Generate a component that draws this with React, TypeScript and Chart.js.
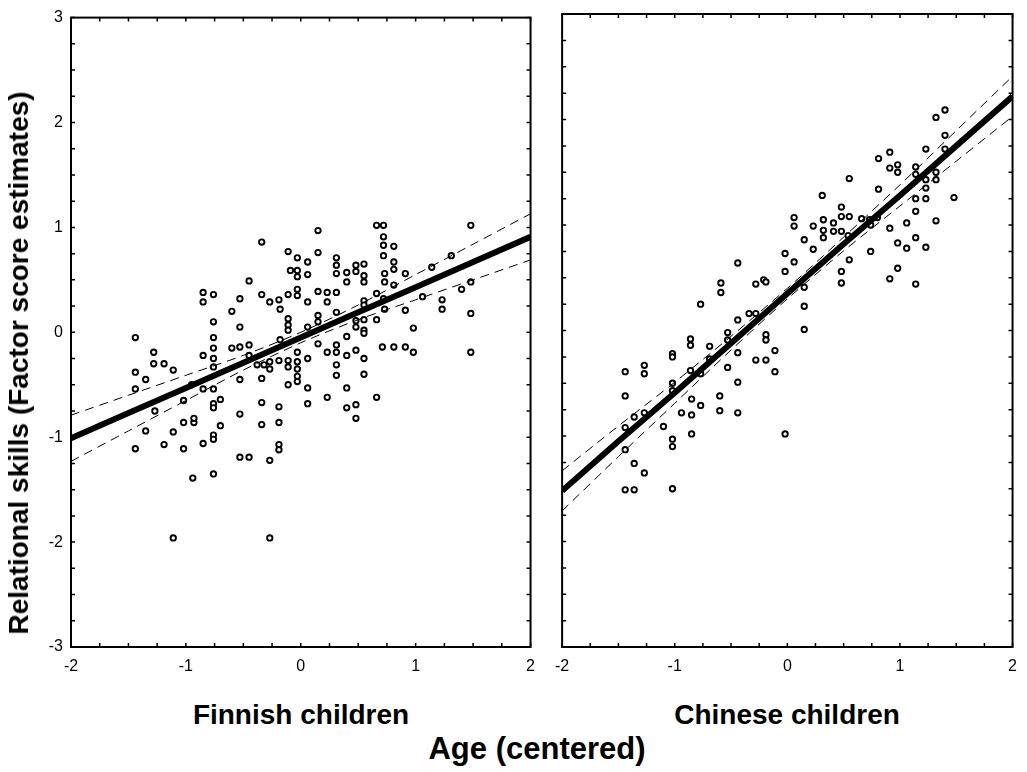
import React, { useEffect, useRef } from "react";
import { Chart, registerables } from "chart.js";
Chart.register(...registerables);

const FONT = "'Liberation Sans', Arial, Helvetica, sans-serif";

// Regression lines and 95% confidence bands, read at these ages
const bandX = [-2, -1.5, -1, -0.5, 0, 0.5, 1, 1.5, 2];
const finnishFit = [-1.01, -0.77, -0.53, -0.29, -0.05, 0.19, 0.43, 0.67, 0.91];
const finnishUpper = [-0.79, -0.6, -0.41, -0.22, 0.0, 0.26, 0.55, 0.84, 1.13];
const finnishLower = [-1.23, -0.94, -0.65, -0.36, -0.1, 0.12, 0.31, 0.5, 0.69];
const chineseFit = [-1.52, -1.05, -0.59, -0.12, 0.35, 0.82, 1.28, 1.75, 2.22];
const chineseUpper = [-1.33, -0.905, -0.49, -0.055, 0.4, 0.885, 1.38, 1.895, 2.41];
const chineseLower = [-1.71, -1.195, -0.69, -0.185, 0.3, 0.755, 1.18, 1.605, 2.03];

// Finnish children: age (centered), relational skills
const finnishAge = [
  -0.34, -0.11, -0.03, -0.09, -0.03, -0.03, 0.06, -0.45, -0.85, -0.76, -0.85, -0.53, -0.34, -0.27, -0.19, -0.18,
  -0.11, -0.03, -0.03, -0.6, -0.76, -0.53, -0.11, -0.11, -0.11, -1.44, -0.76, -0.76, -0.76, -0.76, -0.85, -0.6,
  -0.53, -0.45, -0.45, -0.18, -1.28, -1.28, -1.19, -1.11, -1.44, -1.35, -0.53, -0.38, -0.32, -0.27, -0.27, -0.19,
  -0.11, -0.11, -0.03, -0.03, -0.03, 0.06, -0.34, -0.03,
  -1.44, -0.95, -0.85, -0.76, -0.7, -0.76, -0.76, -1.02, -1.27, -0.11, -0.34, -0.19, -0.53, -1.02, -0.93, -0.93,
  -0.7, -0.34, -0.19, -1.35, -1.11, -0.76, -0.76, -0.85, -1.19, -1.02, -1.44, -0.19, -0.19, -0.53, -0.45, -0.27,
  -0.94, -0.76, -1.11, -0.27,
  1.48, 0.66, 0.72, 0.15, 0.72, 0.72, 0.81, 0.15, 0.72, 0.06, 0.31, 0.31, 0.31, 0.4, 0.48, 0.55, 0.48, 0.4, 0.55,
  0.55, 0.81, 0.81, 0.73, 0.73, 0.81, 0.91, 1.14, 1.31, 1.48, 1.4, 1.06, 1.23, 1.23, 0.91, 0.06, 0.15, 0.23, 0.31,
  0.23, 0.66, 0.72, 0.55, 0.55, 0.73, 1.48, 0.15, 0.15, 0.31, 0.48, 0.55, 0.66, 0.48, 0.55, 0.55, 0.98, 0.06, 0.4,
  0.15, 0.23, 0.31, 0.31, 0.4, 0.48, 0.55, 0.71, 0.81, 0.91, 0.98, 1.48, 0.31, 0.31, 0.55,
  -0.03, 0.06, 0.4, 0.06, 0.23, 0.66, 0.4, 0.48, 0.48,
];
const finnishSkill = [
  0.86, 0.77, 0.71, 0.59, 0.59, 0.53, 0.55, 0.49, 0.38, 0.36, 0.29, 0.32, 0.36, 0.29, 0.31, 0.22,
  0.36, 0.41, 0.35, 0.2, 0.1, 0.05, 0.13, 0.07, 0.02, -0.05, -0.05, -0.15, -0.25, -0.33, -0.22, -0.15,
  -0.14, -0.12, -0.22, -0.07, -0.19, -0.3, -0.3, -0.36, -0.38, -0.45, -0.45, -0.31, -0.31, -0.28, -0.35, -0.27,
  -0.27, -0.33, -0.19, -0.28, -0.35, -0.25, -0.44, -0.42,
  -0.54, -0.5, -0.54, -0.54, -0.64, -0.68, -0.72, -0.65, -0.75, -0.5, -0.67, -0.71, -0.78, -0.86, -0.86, -0.82,
  -0.89, -0.88, -0.86, -0.94, -0.95, -0.98, -1.02, -1.06, -1.07, -1.11, -1.11, -1.07, -1.12, -1.19, -1.19, -1.22,
  -1.39, -1.35, -1.96, -1.96,
  1.02, 1.02, 1.02, 0.97, 0.91, 0.83, 0.82, 0.76, 0.73, 0.67, 0.71, 0.64, 0.56, 0.57, 0.64, 0.65, 0.58, 0.48, 0.54,
  0.48, 0.67, 0.6, 0.56, 0.48, 0.45, 0.56, 0.62, 0.73, 0.48, 0.41, 0.34, 0.31, 0.22, 0.21, 0.29, 0.39, 0.38, 0.38,
  0.29, 0.37, 0.32, 0.3, 0.26, 0.22, 0.18, 0.16, 0.1, 0.19, 0.11, 0.12, 0.12, 0.05, 0.02, -0.01, 0.04, 0.05, -0.04,
  -0.11, -0.19, -0.12, -0.19, -0.22, -0.17, -0.25, -0.14, -0.14, -0.14, -0.19, -0.19, -0.31, -0.41, -0.4,
  -0.47, -0.53, -0.53, -0.68, -0.62, -0.62, -0.72, -0.69, -0.82,
];

// Chinese children: age (centered), relational skills
const chineseAge = [
  -0.44, -0.59, -0.59, -0.28, -0.21,
  1.4, 1.32, 1.4, 1.23, 1.4, 0.91, 0.81, 0.91, 0.98, 0.98, 1.14, 1.14, 1.32, 1.32, 1.23, 1.23, 0.55, 0.81, 0.31,
  1.14, 1.23, 1.48, 1.14, 0.48, 0.48, 0.55, 0.66, 0.73, 0.8, 0.06, 0.06, 0.32, 0.41, 0.23, 0.32, 0.41, 0.48, 0.32,
  0.54, 0.74, 0.91, 1.06, 1.32, 0.15, 0.98, 1.06, 1.14, 1.23, 0.23, -0.02, 0.06, -0.02, 0.74, 0.55, 0.48, 0.48,
  0.98, 0.91, 1.14, -0.19, 0.15,
  -0.77, -0.34, -0.28, -0.44, -0.53, -0.53, -0.86, -0.86, -0.69, -0.69, -0.44, -0.28, -1.02, -1.02, -0.86, -0.77,
  -0.53, -1.27, -1.27, -1.44, -0.44, -1.02, -1.02, -1.44, -0.6, -0.85, -0.77, -0.85, -0.94, -0.6, -0.44, -1.36,
  -1.27, -1.1, -1.44, -0.85, -1.02, -1.02, -1.44, -1.36, -1.27, -1.44, -1.36, -1.02,
  0.15, 0.15, -0.19, -0.19, -0.11, -0.19, -0.11, -0.02,
];
const chineseSkill = [
  0.64, 0.45, 0.36, 0.44, 0.48,
  2.09, 2.02, 1.85, 1.72, 1.72, 1.69, 1.63, 1.54, 1.57, 1.5, 1.55, 1.48, 1.5, 1.43, 1.43, 1.35, 1.44, 1.34, 1.28,
  1.25, 1.25, 1.26, 1.13, 1.17, 1.08, 1.08, 1.06, 1.05, 1.07, 1.07, 0.99, 1.05, 1.02, 0.99, 0.95, 0.94, 0.94, 0.88,
  0.9, 1.0, 0.97, 1.02, 1.04, 0.86, 0.83, 0.78, 0.88, 0.79, 0.77, 0.73, 0.65, 0.56, 0.75, 0.67, 0.56, 0.45,
  0.59, 0.49, 0.44, 0.46, 0.41,
  0.25, 0.16, 0.16, 0.1, -0.02, -0.09, -0.08, -0.14, -0.15, -0.27, -0.21, -0.28, -0.22, -0.25, -0.38, -0.41,
  -0.35, -0.33, -0.41, -0.39, -0.49, -0.5, -0.57, -0.62, -0.62, -0.65, -0.71, -0.8, -0.78, -0.76, -0.78, -0.82,
  -0.78, -0.91, -0.92, -0.98, -1.03, -1.1, -1.13, -1.26, -1.35, -1.51, -1.51, -1.5,
  0.23, 0.01, -0.04, -0.09, -0.19, -0.28, -0.39, -0.98,
];

const xMin = -2;
const xMax = 2;
const yMin = -3;
const yMax = 3;
const minorStep = 0.25;

const framePlugin = {
  id: "frameTicks",
  afterDatasetsDraw(chart: any) {
    const { ctx, chartArea: a, scales } = chart;
    const xs = scales.x;
    const ys = scales.y;
    ctx.save();
    ctx.strokeStyle = "#000";
    ctx.lineWidth = 1.5;
    ctx.beginPath();
    for (let v = xMin; v <= xMax + 1e-9; v += minorStep) {
      const px = xs.getPixelForValue(v);
      ctx.moveTo(px, a.bottom);
      ctx.lineTo(px, a.bottom - 4);
      ctx.moveTo(px, a.top);
      ctx.lineTo(px, a.top + 4);
    }
    for (let v = yMin; v <= yMax + 1e-9; v += minorStep) {
      const py = ys.getPixelForValue(v);
      ctx.moveTo(a.left, py);
      ctx.lineTo(a.left + 4, py);
      ctx.moveTo(a.right, py);
      ctx.lineTo(a.right - 4, py);
    }
    ctx.stroke();
    ctx.lineWidth = 2;
    ctx.strokeRect(a.left, a.top, a.right - a.left, a.bottom - a.top);
    ctx.restore();
  },
};

function toPoints(xs: number[], ys: number[]) {
  return xs.map((x, i) => ({ x, y: ys[i] }));
}

function makeConfig(
  ages: number[],
  skills: number[],
  fit: number[],
  upper: number[],
  lower: number[],
  showYLabels: boolean,
  yAxisWidth: number,
  padRight: number
): any {
  return {
    type: "scatter",
    data: {
      datasets: [
        {
          type: "line",
          data: toPoints(bandX, fit),
          borderColor: "#000",
          borderWidth: 6,
          pointRadius: 0,
          fill: false,
          clip: 0,
          order: 0,
        },
        {
          type: "line",
          data: toPoints(bandX, upper),
          borderColor: "#000",
          borderWidth: 1,
          borderDash: [9, 6],
          pointRadius: 0,
          fill: false,
          tension: 0.3,
          clip: 0,
          order: 1,
        },
        {
          type: "line",
          data: toPoints(bandX, lower),
          borderColor: "#000",
          borderWidth: 1,
          borderDash: [9, 6],
          pointRadius: 0,
          fill: false,
          tension: 0.3,
          clip: 0,
          order: 2,
        },
        {
          type: "scatter",
          data: toPoints(ages, skills),
          pointStyle: "circle",
          pointRadius: 2.7,
          borderWidth: 1.9,
          borderColor: "#000",
          backgroundColor: "#fff",
          order: 3,
        },
      ],
    },
    options: {
      animation: false,
      responsive: false,
      devicePixelRatio: 1,
      events: [],
      layout: { padding: { top: 14, right: padRight, left: 0, bottom: 0 } },
      plugins: { legend: { display: false }, tooltip: { enabled: false }, title: { display: false } },
      scales: {
        x: {
          type: "linear",
          min: xMin,
          max: xMax,
          ticks: {
            stepSize: 1,
            color: "#000",
            font: { family: FONT, size: 16 },
            padding: 10,
            maxRotation: 0,
          },
          grid: { display: false, drawTicks: false },
          border: { display: false },
          afterFit: (s: any) => {
            s.height = 43;
          },
        },
        y: {
          type: "linear",
          min: yMin,
          max: yMax,
          ticks: {
            display: showYLabels,
            stepSize: 1,
            color: "#000",
            font: { family: FONT, size: 16 },
            padding: 8,
          },
          grid: { display: false, drawTicks: false },
          border: { display: false },
          afterFit: (s: any) => {
            s.width = yAxisWidth;
          },
        },
      },
    },
    plugins: [framePlugin],
  };
}

function labelStyle(x: number, y: number, size: number, rotate = false): React.CSSProperties {
  return {
    position: "absolute",
    left: x,
    top: y,
    transform: rotate ? "translate(-50%, -50%) rotate(-90deg)" : "translate(-50%, -50%)",
    fontFamily: FONT,
    fontWeight: "bold",
    fontSize: size,
    lineHeight: 1,
    whiteSpace: "nowrap",
    color: "#000",
  };
}

export default function App() {
  const leftRef = useRef<HTMLCanvasElement>(null);
  const rightRef = useRef<HTMLCanvasElement>(null);

  useEffect(() => {
    const c1 = new Chart(
      leftRef.current as HTMLCanvasElement,
      makeConfig(finnishAge, finnishSkill, finnishFit, finnishUpper, finnishLower, true, 71, 14)
    );
    const c2 = new Chart(
      rightRef.current as HTMLCanvasElement,
      makeConfig(chineseAge, chineseSkill, chineseFit, chineseUpper, chineseLower, false, 13, 10)
    );
    return () => {
      c1.destroy();
      c2.destroy();
    };
  }, []);

  return (
    <div
      style={{
        position: "absolute",
        left: 0,
        top: 0,
        width: 1027,
        height: 772,
        background: "#fff",
        overflow: "hidden",
      }}
    >
      <canvas ref={leftRef} width={545} height={690} style={{ position: "absolute", left: 0, top: 0 }} />
      <canvas ref={rightRef} width={482} height={690} style={{ position: "absolute", left: 545, top: 0 }} />
      <div style={labelStyle(19, 363, 28, true)}>Relational skills (Factor score estimates)</div>
      <div style={labelStyle(301, 715, 28)}>Finnish children</div>
      <div style={labelStyle(787, 715, 28)}>Chinese children</div>
      <div style={labelStyle(537, 748, 31)}>Age (centered)</div>
    </div>
  );
}
